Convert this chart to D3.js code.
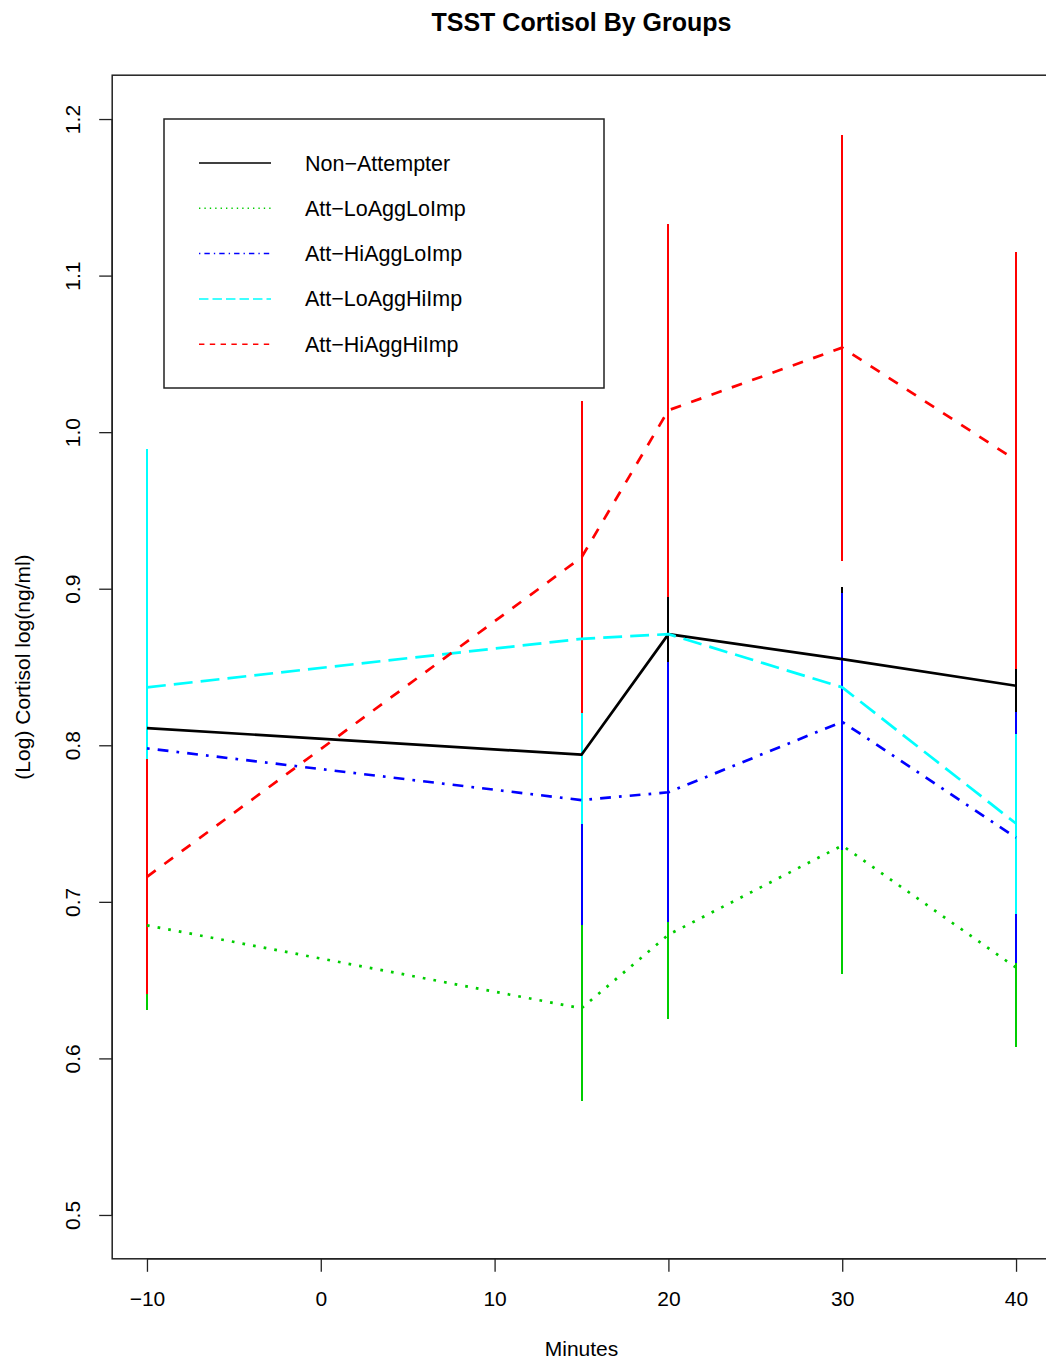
<!DOCTYPE html>
<html>
<head>
<meta charset="utf-8">
<script src="https://cdn.jsdelivr.net/npm/d3@7"></script>
<style>
  html, body { margin: 0; padding: 0; background: #fff; }
  svg { display: block; }
  text { font-family: "Liberation Sans", Arial, Helvetica, sans-serif; fill: #000; }
</style>
</head>
<body>
<svg id="chart" width="1046" height="1361"></svg>
<script>
// ---- data ----
const minutes = [-10, 15, 20, 30, 40];
const groupNames = ["Non\u2212Attempter", "Att\u2212LoAggLoImp", "Att\u2212HiAggLoImp", "Att\u2212LoAggHiImp", "Att\u2212HiAggHiImp"];
const meanNonAttempter = [0.811, 0.794, 0.871, 0.855, 0.838];
const meanLoAggLoImp   = [0.685, 0.632, 0.679, 0.736, 0.658];
const meanHiAggLoImp   = [0.798, 0.765, 0.770, 0.815, 0.741];
const meanLoAggHiImp   = [0.837, 0.868, 0.871, 0.837, 0.750];
const meanHiAggHiImp   = [0.716, 0.920, 1.014, 1.054, 0.982];
const seNonAttempter = [0.019, 0.026, 0.025, 0.046, 0.030];
const seLoAggLoImp   = [0.054, 0.059, 0.054, 0.082, 0.051];
const seHiAggLoImp   = [0.050, 0.080, 0.083, 0.082, 0.080];
const seLoAggHiImp   = [0.152, 0.118, null, null, 0.0575];
const seHiAggHiImp   = [0.075, 0.0996, 0.119, 0.136, 0.133];
const xTicks = [-10, 0, 10, 20, 30, 40];
const yTicks = [0.5, 0.6, 0.7, 0.8, 0.9, 1.0, 1.1, 1.2];

const chartTitle = "TSST Cortisol By Groups";
const xTitle = "Minutes";
const yTitle = "(Log) Cortisol log(ng/ml)";

// ---- styles ----
const colors = ["#000000", "#00CD00", "#0000FF", "#00FFFF", "#FF0000"];
const plotDash = ["none", "2.7,8.1", "2.7,8.1,10.8,8.1", "18.9,8.1", "10.8,10.8"];
const legDash  = ["none", "1.35,4.05", "1.35,4.05,5.4,4.05", "9.45,4.05", "5.4,5.4"];

const means = [meanNonAttempter, meanLoAggLoImp, meanHiAggLoImp, meanLoAggHiImp, meanHiAggHiImp];
const ses = [seNonAttempter, seLoAggLoImp, seHiAggLoImp, seLoAggHiImp, seHiAggHiImp];

const svg = d3.select("#chart");
const x = d3.scaleLinear().domain([-12, 42]).range([112.2, 1050.8]);
const y = d3.scaleLinear().domain([0.472, 1.228]).range([1258.8, 75.2]);

// plot box
svg.append("rect")
  .attr("x", x(-12)).attr("y", y(1.228))
  .attr("width", x(42) - x(-12)).attr("height", y(0.472) - y(1.228))
  .attr("fill", "none").attr("stroke", "#222").attr("stroke-width", 1.5);

// axes
const xAxis = svg.append("g")
  .attr("transform", `translate(0,${y(0.472)})`)
  .call(d3.axisBottom(x).tickValues(xTicks).tickSize(13).tickPadding(19)
        .tickFormat(d => d < 0 ? "\u2212" + Math.abs(d) : String(d)));
xAxis.select(".domain").attr("stroke", "#222").attr("stroke-width", 1.5)
  .attr("d", `M${x(-10)},0H${x(40)}`);
xAxis.selectAll(".tick line").attr("stroke", "#222").attr("stroke-width", 1.3);
xAxis.selectAll(".tick text").attr("font-size", 21).attr("fill", "#000")
  .style("font-family", '"Liberation Sans", Arial, sans-serif');

const yAxis = svg.append("g")
  .attr("transform", `translate(${x(-12)},0)`)
  .call(d3.axisLeft(y).tickValues(yTicks).tickSize(13).tickFormat(d3.format(".1f")));
yAxis.select(".domain").attr("stroke", "#222").attr("stroke-width", 1.5)
  .attr("d", `M0,${y(0.5)}V${y(1.2)}`);
yAxis.selectAll(".tick line").attr("stroke", "#222").attr("stroke-width", 1.3);
yAxis.selectAll(".tick text")
  .attr("font-size", 21).attr("fill", "#000")
  .style("font-family", '"Liberation Sans", Arial, sans-serif')
  .attr("x", null).attr("dy", null)
  .attr("text-anchor", "middle")
  .attr("transform", "translate(-30,0) rotate(-90)")
  .attr("dy", "-0.1em");

// error bars (drawn in group order, later overlay earlier)
means.forEach((m, gi) => {
  const rows = minutes.map((t, i) => ({t, m: m[i], s: ses[gi][i]})).filter(d => d.s != null);
  svg.append("g").attr("shape-rendering", "crispEdges")
    .selectAll("line").data(rows).join("line")
    .attr("x1", d => Math.round(x(d.t))).attr("x2", d => Math.round(x(d.t)))
    .attr("y1", d => y(d.m - d.s)).attr("y2", d => y(d.m + d.s))
    .attr("stroke", colors[gi]).attr("stroke-width", 2);
});

// mean lines
const lineGen = d3.line().x(d => x(d[0])).y(d => y(d[1]));
means.forEach((m, gi) => {
  svg.append("path")
    .datum(minutes.map((t, i) => [t, m[i]]))
    .attr("d", lineGen)
    .attr("fill", "none")
    .attr("stroke", colors[gi])
    .attr("stroke-width", 2.7)
    .attr("stroke-dasharray", plotDash[gi])
    .attr("stroke-linejoin", "round");
});

// legend
const leg = svg.append("g");
leg.append("rect").attr("x", 164).attr("y", 119).attr("width", 440).attr("height", 269)
  .attr("fill", "#fff").attr("stroke", "#222").attr("stroke-width", 1.5);
groupNames.forEach((name, i) => {
  const ly = 163 + i * 45.3;
  leg.append("line").attr("x1", 199).attr("x2", 271).attr("y1", ly).attr("y2", ly)
    .attr("stroke", colors[i]).attr("stroke-width", 1.5)
    .attr("stroke-dasharray", legDash[i]);
  leg.append("text").attr("x", 305).attr("y", ly).attr("dy", "0.35em")
    .attr("font-size", 21.5).text(name);
});

// titles
svg.append("text").attr("x", (x(-12) + x(42)) / 2).attr("y", 31)
  .attr("text-anchor", "middle").attr("font-size", 25).attr("font-weight", "bold")
  .text(chartTitle);
svg.append("text").attr("x", (x(-12) + x(42)) / 2).attr("y", 1356)
  .attr("text-anchor", "middle").attr("font-size", 21).text(xTitle);
svg.append("text")
  .attr("transform", `translate(30,${(y(0.472) + y(1.228)) / 2}) rotate(-90)`)
  .attr("text-anchor", "middle").attr("font-size", 21).text(yTitle);
</script>
</body>
</html>
